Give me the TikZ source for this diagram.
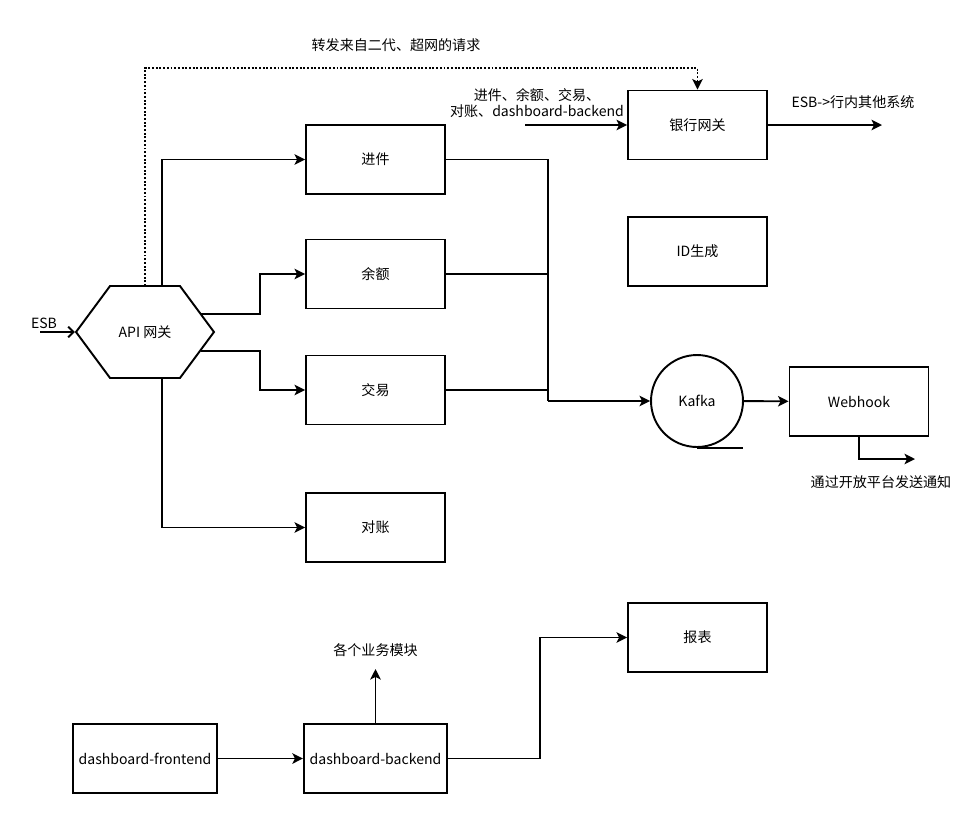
\documentclass[tikz,border=0pt]{standalone}
\usepackage{fontspec}
\setmainfont{Noto Sans CJK SC}
\usetikzlibrary{arrows.meta,shapes.symbols}

\begin{document}
\begin{tikzpicture}[x=0.02cm, y=-0.02cm, line width=1.1pt, >={Stealth[length=6pt,width=6pt,inset=1.5pt]}, font=\fontsize{8}{9.2}\selectfont]
\useasboundingbox (0,0) rectangle (960,836);

   \begin{scope}[every node/.style={draw, minimum width=2.78cm, minimum height=1.38cm}]
    \node (jinjian) at (375.5,159.5) {进件};
    \node (yue) at (375.5,274) {余额};
    \node (jiaoyi) at (375.5,390) {交易};
    \node (duizhang) at (375.5,527.5) {对账};
    \node (bank) at (697.5,125) {银行网关};
    \node (idgen) at (697.5,251.5) {ID生成};
    \node (webhook) at (859,401.5) {Webhook};
    \node (report) at (697.5,637.5) {报表};
    \node (frontend) at (145,758.5) {dashboard-frontend};
    \node (backend) at (375.5,758.5) {dashboard-backend};
   \end{scope}
   \node[draw, signal, signal to=east and west, signal pointer angle=107, minimum width=2.76cm, minimum height=1.84cm] (api) at (145,332) {API 网关};
   \node[draw, circle, minimum size=1.84cm] (kafka) at (697,401) {Kafka};

   % labels
   \node (lblesb) at (44,323) {ESB};
   \node (lblfwd) at (396,45) {转发来自二代、超网的请求};
   \node[align=center] (lblin) at (537,103) {进件、余额、交易、\\对账、dashboard-backend};
   \node (lblout) at (853,102) {ESB->行内其他系统};
   \node (lblnotify) at (881,482) {通过开放平台发送通知};
   \node (lblmods) at (375.5,650) {各个业务模块};

   \coordinate (esbin) at (40,332);
   \coordinate (h0) at (145,286);
   \coordinate (h1) at (162,286);
   \coordinate (h2) at (201,314);
   \coordinate (h3) at (201,351);
   \coordinate (h4) at (162,378);
   \coordinate (merge) at (548,401);
   \coordinate (bankin) at (525,125);
   \coordinate (bankout) at (882,125);
   \coordinate (notify) at (915,459);
   \coordinate (mods) at (375.5,669);

\draw[-{Straight Barb[length=3pt,width=6pt]}] (esbin) -- (api);
\draw[densely dotted,->] (h0) -- (145,68) -| (bank);
\draw[->] (h1) |- (jinjian);
\draw[->] (h2) -- ++(59,0) |- (yue);
\draw[->] (h3) -- ++(59,0) |- (jiaoyi);
\draw[->] (h4) |- (duizhang);
\draw (jinjian) -| (merge);
\draw (yue) -| (merge);
\draw (jiaoyi) -| (merge);
\draw[->] (merge) -- (kafka);
\draw (kafka.south) -- ++(46,0);
\draw[->] (kafka) -- (webhook);
\draw[->] (webhook.south) |- (notify);
\draw[->] (bankin) -- (bank);
\draw[->] (bank) -- (bankout);
\draw[->] (frontend) -- (backend);
\draw[->] (backend) -- (mods);
\draw[->] (backend.east) -- ++(92,0) |- (report);
\end{tikzpicture}
\end{document}
